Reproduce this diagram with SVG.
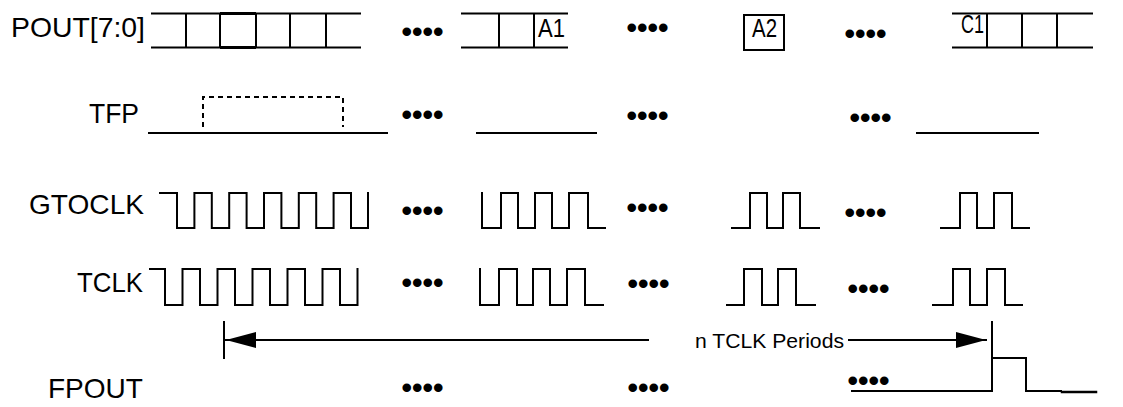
<svg xmlns="http://www.w3.org/2000/svg" width="1123" height="407" viewBox="0 0 1123 407">
<style>
.bg{fill:#fff}
.ln{fill:none;stroke:#000;stroke-width:2;stroke-linecap:square}
.bold{fill:none;stroke:#000;stroke-width:3.2}
.dash{fill:none;stroke:#000;stroke-width:2;stroke-dasharray:5,4}
.lbl{font-family:"Liberation Sans",Arial,sans-serif;font-size:28px;fill:#000}
.cell{font-family:"Liberation Sans",Arial,sans-serif;font-size:26px;fill:#000}
.note{font-family:"Liberation Sans",Arial,sans-serif;font-size:21px;fill:#000}
.dots{font-family:"Liberation Sans",Arial,sans-serif;font-size:30px;font-weight:bold;fill:#000}
</style>
<defs>
<marker id="ah" viewBox="0 0 30 16" markerWidth="30" markerHeight="16" refX="30" refY="8" orient="auto" markerUnits="userSpaceOnUse">
<path d="M0,0 L30,8 L0,16 Z" fill="#000"/>
</marker>
</defs>
<rect class="bg" x="0" y="0" width="1123" height="407"/>

<g id="pout">
<text class="lbl" x="11" y="37" textLength="134" lengthAdjust="spacingAndGlyphs">POUT[7:0]</text>
<path class="ln" d="M152,13.5 H360 M152,47.5 H360 M186,13.5 V47.5 M220,13.5 V47.5 M256,13.5 V47.5 M290,13.5 V47.5 M326,13.5 V47.5"/>
<path class="bold" d="M220,13.5 H256 M220,47.5 H256"/>
<text class="dots" x="401.6" y="41.5">••••</text>
<path class="ln" d="M462,13.5 H567 M462,47.5 H567 M499,13.5 V47.5 M534,13.5 V47.5"/>
<text class="cell" x="538" y="36.5" textLength="27" lengthAdjust="spacingAndGlyphs">A1</text>
<text class="dots" x="626.6" y="37.5">••••</text>
<rect class="ln" x="744" y="15" width="40" height="35"/>
<text class="cell" x="752" y="37" textLength="25" lengthAdjust="spacingAndGlyphs">A2</text>
<text class="dots" x="844.6" y="43.5">••••</text>
<path class="ln" d="M953,13.5 H1092 M953,47.5 H1092 M987,13.5 V47.5 M1022,13.5 V47.5 M1057,13.5 V47.5"/>
<text class="cell" x="961" y="33" textLength="23" lengthAdjust="spacingAndGlyphs">C1</text>
</g>

<g id="tfp">
<text class="lbl" x="89" y="123" textLength="50" lengthAdjust="spacingAndGlyphs">TFP</text>
<path class="ln" d="M149,133 H387"/>
<path class="dash" d="M203,127 V97 H343 V127"/>
<text class="dots" x="401.6" y="125">••••</text>
<path class="ln" d="M477,133 H596"/>
<text class="dots" x="626.6" y="126">••••</text>
<text class="dots" x="849.6" y="127.5">••••</text>
<path class="ln" d="M917,133 H1038"/>
</g>

<g id="gtoclk">
<text class="lbl" x="29" y="214" textLength="115" lengthAdjust="spacingAndGlyphs">GTOCLK</text>
<path class="ln" d="M160,193 H177 V228 H194.4 V193 H211.8 V228 H229.2 V193 H246.6 V228 H264 V193 H281.4 V228 H298.8 V193 H316.2 V228 H333.6 V193 H351 V228 H368 V193"/>
<text class="dots" x="401.6" y="220.5">••••</text>
<path class="ln" d="M482,193 V228 H501 V193 H518 V228 H535 V193 H552 V228 H569 V193 H588 V228 H605"/>
<text class="dots" x="626.6" y="218">••••</text>
<path class="ln" d="M732,228 H750 V193 H767 V228 H783 V193 H800 V228 H819"/>
<text class="dots" x="844.6" y="223">••••</text>
<path class="ln" d="M941,228 H960 V193 H977 V228 H994 V193 H1012 V228 H1029"/>
</g>

<g id="tclk">
<text class="lbl" x="77" y="292" textLength="66" lengthAdjust="spacingAndGlyphs">TCLK</text>
<path class="ln" d="M150,269 H165 V305 H182.5 V269 H200 V305 H217.5 V269 H235 V305 H252.5 V269 H270 V305 H287.5 V269 H305 V305 H322.5 V269 H340 V305 H357.5 V269"/>
<text class="dots" x="401.6" y="293">••••</text>
<path class="ln" d="M480,269 V305 H499 V269 H517 V305 H533 V269 H550 V305 H567 V269 H585 V305 H603"/>
<text class="dots" x="627.6" y="294">••••</text>
<path class="ln" d="M727,305 H744 V269 H762 V305 H778 V269 H796 V305 H815"/>
<text class="dots" x="847.6" y="299">••••</text>
<path class="ln" d="M933,305 H953 V269 H970 V305 H987 V269 H1005 V305 H1022"/>
</g>

<g id="fpout">
<text class="lbl" x="48" y="398" textLength="95" lengthAdjust="spacingAndGlyphs">FPOUT</text>
<text class="dots" x="401.6" y="397.5">••••</text>
<text class="dots" x="627.6" y="397.5">••••</text>
<text class="dots" x="847.6" y="391">••••</text>
<path class="ln" d="M852,391 H992 V358 H1026 V391 H1061"/>
<path class="ln" d="M1062,392 H1096" style="stroke-width:2.5"/>
</g>

<g id="connectors">
<path class="ln" d="M224,322 V358 M992,322 V356"/>
<path class="ln" d="M648,340 H226" marker-end="url(#ah)"/>
<path class="ln" d="M849,340 H986" marker-end="url(#ah)"/>
<text class="note" x="695" y="348" textLength="149" lengthAdjust="spacingAndGlyphs">n TCLK Periods</text>
</g>
</svg>
